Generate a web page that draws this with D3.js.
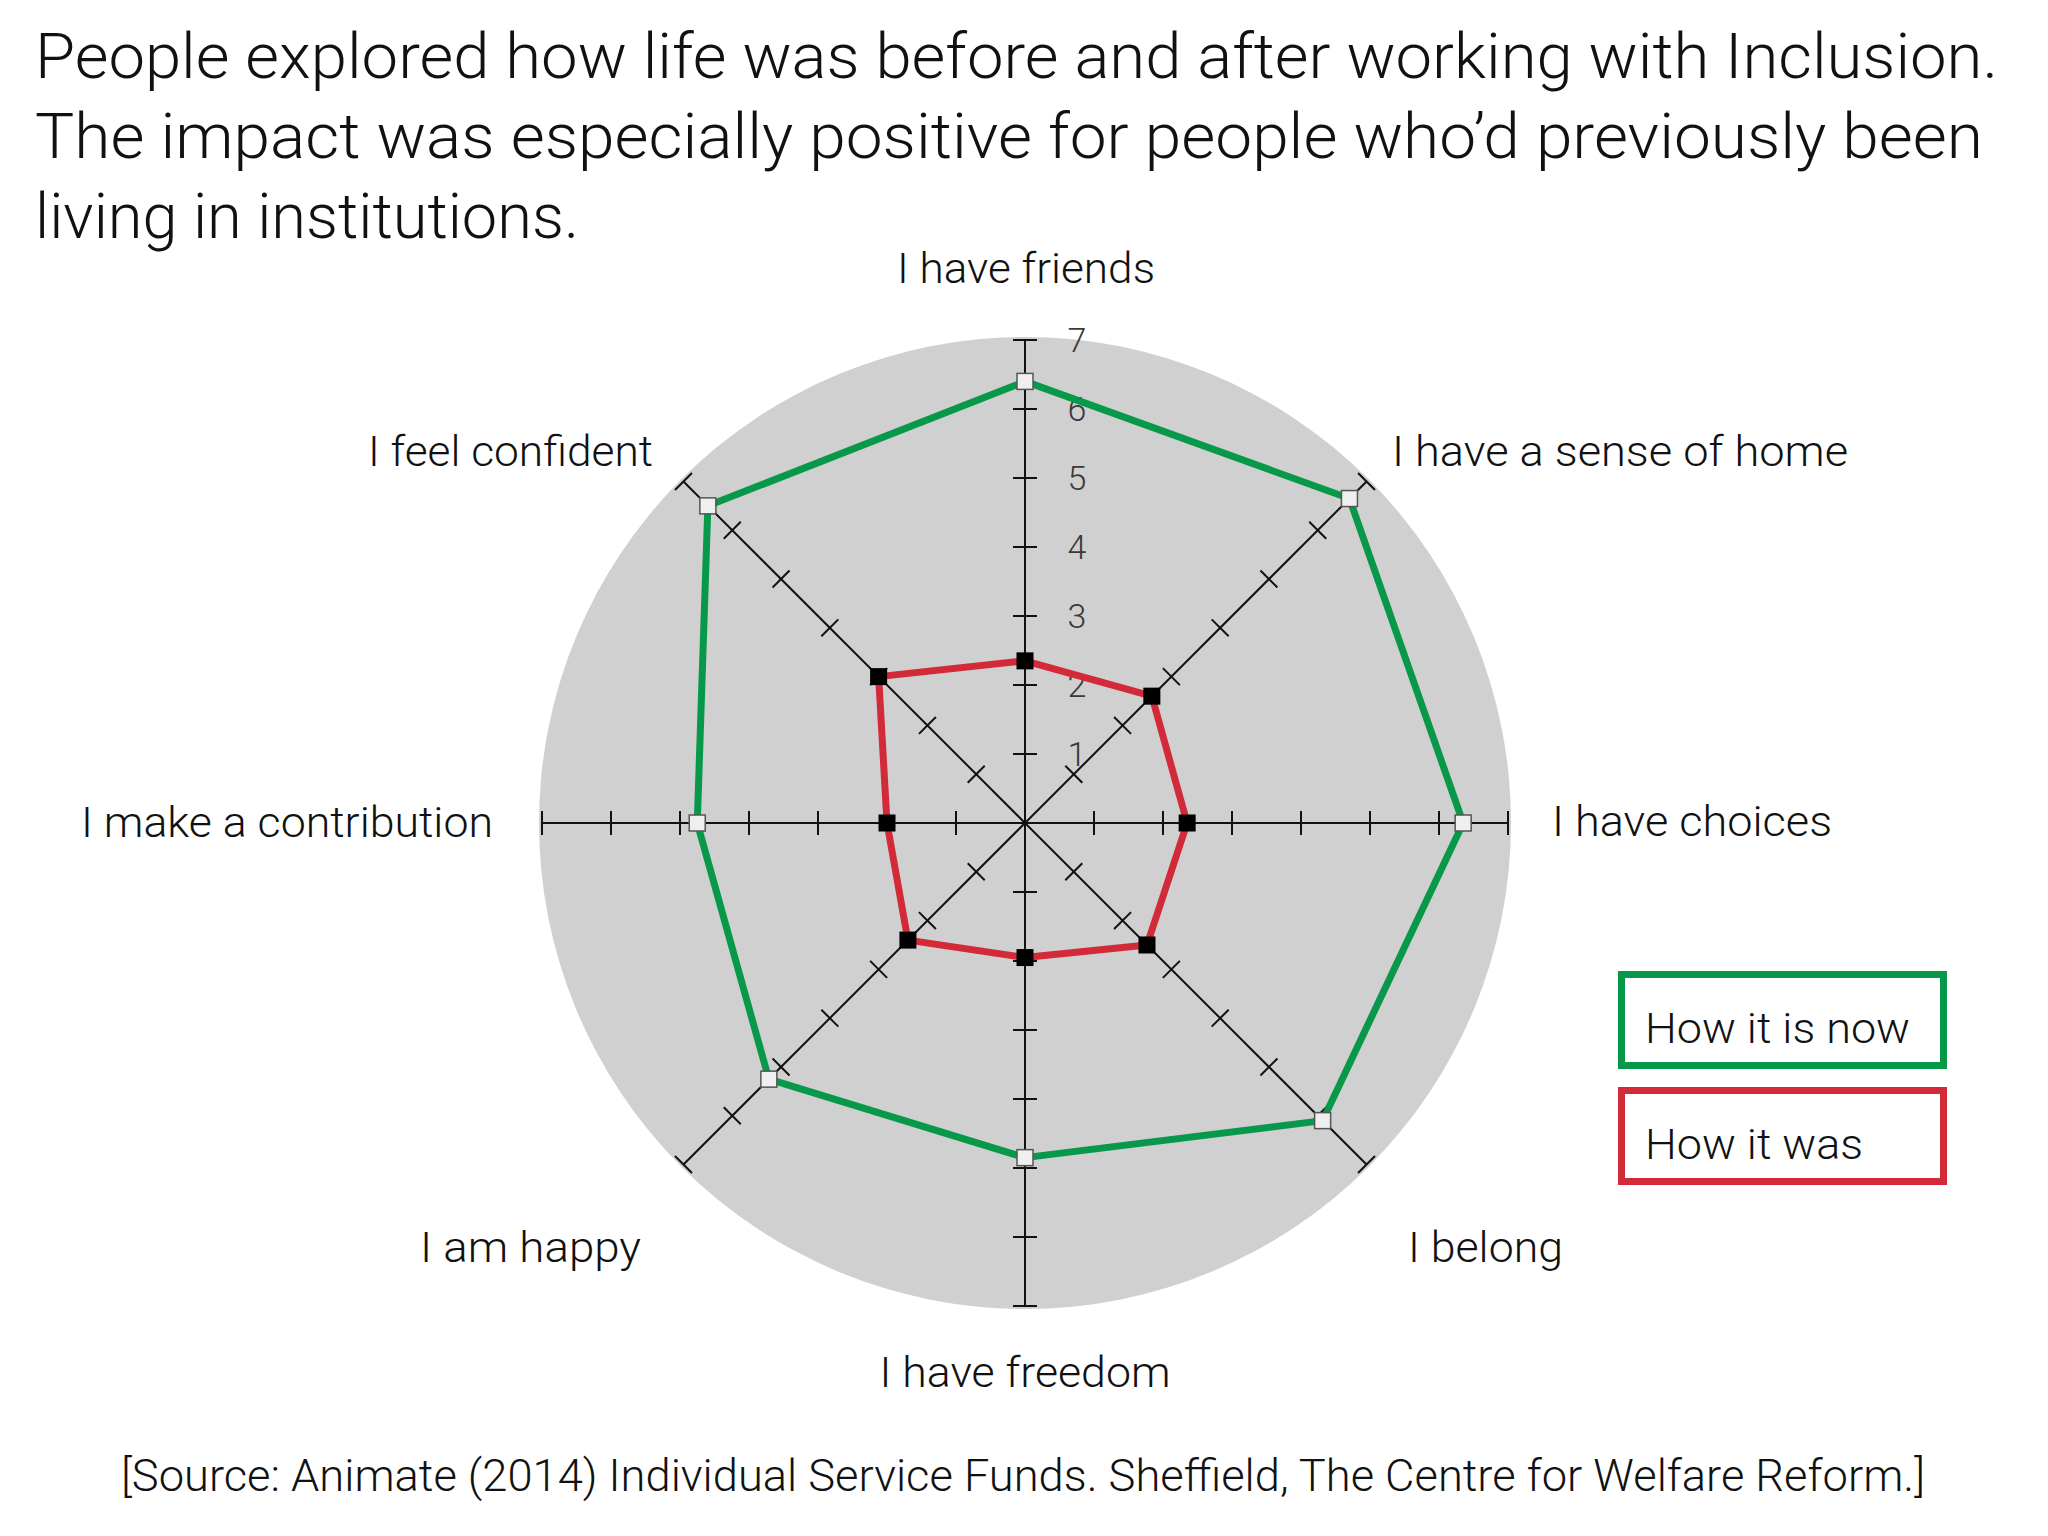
<!DOCTYPE html>
<html>
<head>
<meta charset="utf-8">
<script src="https://cdn.jsdelivr.net/npm/d3@7"></script>
<style>
  body { margin: 0; background: #fff; }
  text { font-family: Roboto, "Liberation Sans", Arial, sans-serif; font-weight: 300; fill: #111; }
</style>
</head>
<body>
<svg></svg>
<script>
// data
var categories = ['I have friends', 'I have a sense of home', 'I have choices', 'I belong',
  'I have freedom', 'I am happy', 'I make a contribution', 'I feel confident']
var nowValues = [6.4, 6.65, 6.35, 6.1, 4.85, 5.25, 4.75, 6.5]
var wasValues = [2.35, 2.6, 2.35, 2.5, 1.95, 2.4, 2.0, 3.0]
var tickValues = [1, 2, 3, 4, 5, 6, 7]
var seriesNames = ['How it is now', 'How it was']
var titleLines = [
  'People explored how life was before and after working with Inclusion.',
  'The impact was especially positive for people who\u2019d previously been',
  'living in institutions.'
]
var sourceText = '[Source: Animate (2014) Individual Service Funds. Sheffield, The Centre for Welfare Reform.]'

// layout
var w = 2048
var h = 1536
var cx = 1025
var cy = 823
var green = '#07984a'
var red = '#d22a38'

// label placement relative to the centre: anchor, dx, baseline dy, width
var labelLayout = [
  ['middle', 1, -540, 258],
  ['start', 367, -357, 456],
  ['start', 527, 13, 280],
  ['start', 383, 439, 155],
  ['middle', 0, 564, 291],
  ['end', -384, 439, 221],
  ['end', -532, 14, 412],
  ['end', -372, -357, 285]
]

var svg = d3.select('svg')
  .attr('width', w)
  .attr('height', h)

var r = d3.scaleLinear()
  .domain([0, 7])
  .range([0, 483])

var angle = d3.scalePoint()
  .domain(d3.range(categories.length))
  .range([0, 2 * Math.PI * (categories.length - 1) / categories.length])

// title
svg.append('g').selectAll('text')
  .data(titleLines)
  .enter().append('text')
  .attr('x', 35)
  .attr('y', function (d, i) { return 78 + i * 80 })
  .attr('textLength', function (d, i) { return [1963, 1948, 544][i] })
  .attr('lengthAdjust', 'spacingAndGlyphs')
  .style('font-size', '63px')
  .text(function (d) { return d })

var g = svg.append('g')
  .attr('transform', 'translate(' + cx + ',' + cy + ')')

g.append('circle')
  .attr('r', r(7) + 3)
  .attr('fill', '#d0d0d1')

// axes, drawn pointing up then rotated into place
var axes = g.selectAll('.axis')
  .data(categories)
  .enter().append('g')
  .attr('class', 'axis')
  .attr('transform', function (d, i) { return 'rotate(' + (angle(i) * 180 / Math.PI) + ')' })

axes.append('line')
  .attr('x1', 0).attr('y1', 0)
  .attr('x2', 0).attr('y2', -r(7))
  .attr('stroke', '#111')
  .attr('stroke-width', 2)

axes.selectAll('.tick')
  .data(tickValues)
  .enter().append('line')
  .attr('class', 'tick')
  .attr('x1', -12).attr('x2', 12)
  .attr('y1', function (d) { return -r(d) })
  .attr('y2', function (d) { return -r(d) })
  .attr('stroke', '#111')
  .attr('stroke-width', 2)

// tick labels on the top axis
g.selectAll('.tlabel')
  .data(tickValues)
  .enter().append('text')
  .attr('class', 'tlabel')
  .attr('x', 52)
  .attr('y', function (d) { return -r(d) })
  .attr('dy', '0.36em')
  .attr('text-anchor', 'middle')
  .style('font-size', '34px')
  .style('fill', '#3a3a3a')
  .text(function (d) { return d })

// polygons
var radial = d3.lineRadial()
  .angle(function (d, i) { return angle(i) })
  .radius(function (d) { return r(d) })
  .curve(d3.curveLinearClosed)

g.append('path')
  .attr('d', radial(nowValues))
  .attr('fill', 'none')
  .attr('stroke', green)
  .attr('stroke-width', 7)
  .attr('stroke-linejoin', 'round')

g.append('path')
  .attr('d', radial(wasValues))
  .attr('fill', 'none')
  .attr('stroke', red)
  .attr('stroke-width', 7)
  .attr('stroke-linejoin', 'round')

// markers
var ms = 16
g.selectAll('.mnow')
  .data(nowValues)
  .enter().append('rect')
  .attr('class', 'mnow')
  .attr('x', function (d, i) { return d3.pointRadial(angle(i), r(d))[0] - ms / 2 })
  .attr('y', function (d, i) { return d3.pointRadial(angle(i), r(d))[1] - ms / 2 })
  .attr('width', ms).attr('height', ms)
  .attr('fill', '#efefef')
  .attr('stroke', '#555')
  .attr('stroke-width', 1.5)

g.selectAll('.mwas')
  .data(wasValues)
  .enter().append('rect')
  .attr('class', 'mwas')
  .attr('x', function (d, i) { return d3.pointRadial(angle(i), r(d))[0] - 8.5 })
  .attr('y', function (d, i) { return d3.pointRadial(angle(i), r(d))[1] - 8.5 })
  .attr('width', 17).attr('height', 17)
  .attr('fill', '#000')

// category labels
g.selectAll('.clabel')
  .data(categories)
  .enter().append('text')
  .attr('class', 'clabel')
  .attr('x', function (d, i) { return labelLayout[i][1] })
  .attr('y', function (d, i) { return labelLayout[i][2] })
  .attr('text-anchor', function (d, i) { return labelLayout[i][0] })
  .attr('textLength', function (d, i) { return labelLayout[i][3] })
  .attr('lengthAdjust', 'spacingAndGlyphs')
  .style('font-size', '43px')
  .text(function (d) { return d })

// legend
var legend = svg.append('g')
  .attr('transform', 'translate(1621.5,974.5)')

var items = legend.selectAll('g')
  .data(seriesNames)
  .enter().append('g')
  .attr('transform', function (d, i) { return 'translate(0,' + (i * 116) + ')' })

items.append('rect')
  .attr('width', 322)
  .attr('height', 91)
  .attr('fill', '#fff')
  .attr('stroke', function (d, i) { return [green, red][i] })
  .attr('stroke-width', 7)

items.append('text')
  .attr('x', 23.5)
  .attr('y', 68.5)
  .attr('textLength', function (d, i) { return [265, 218][i] })
  .attr('lengthAdjust', 'spacingAndGlyphs')
  .style('font-size', '43px')
  .text(function (d) { return d })

// source
svg.append('text')
  .attr('x', 121)
  .attr('y', 1491)
  .attr('textLength', 1804)
  .attr('lengthAdjust', 'spacingAndGlyphs')
  .style('font-size', '45px')
  .text(sourceText)
</script>
</body>
</html>
